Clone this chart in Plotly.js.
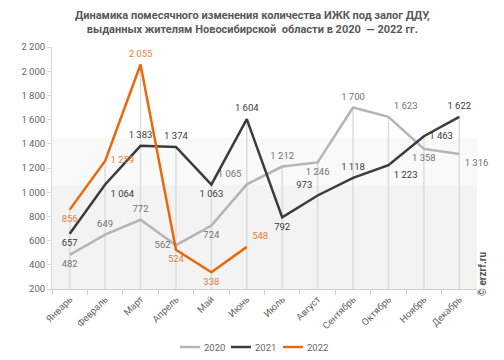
<!DOCTYPE html>
<html>
<head>
<meta charset="utf-8">
<script src="https://cdn.plot.ly/plotly-3.0.1.min.js"></script>
<style>html,body{margin:0;padding:0;background:#fff;}#chart{width:504px;height:360px;}</style>
</head>
<body>
<div id="chart"></div>
<script>
const months = ['Январь','Февраль','Март','Апрель','Май','Июнь','Июль','Август','Сентябрь','Октябрь','Ноябрь','Декабрь'];
const values2020 = [482, 649, 772, 562, 724, 1065, 1212, 1246, 1700, 1623, 1358, 1316];
const values2021 = [657, 1064, 1383, 1374, 1063, 1604, 792, 973, 1118, 1223, 1463, 1622];
const values2022 = [856, 1259, 2055, 524, 338, 548];
const seriesNames = ['2020', '2021', '2022'];
const yTicks = [200, 400, 600, 800, 1000, 1200, 1400, 1600, 1800, 2000, 2200];

const pos2020 = ['bottom center','top center','top center','middle left','bottom center','top left','top center','bottom center','top center','top right','bottom center','bottom right'];
const pos2021 = ['bottom center','bottom right','top center','top center','bottom center','top center','bottom center','top left','top center','bottom right','middle right','top center'];
const pos2022 = ['bottom center','middle right','top center','bottom center','bottom center','top right'];

const FONT = 'Roboto, "Liberation Sans", sans-serif';
const colors = ['#b5b5b5', '#3b3b3b', '#e8690c'];
const labelColors = ['#737373', '#3b3b3b', '#e2813a'];

function series(idx, y, pos) {
  return {
    type: 'scatter', mode: 'lines+markers+text', name: seriesNames[idx],
    x: months.slice(0, y.length), y: y,
    line: {color: colors[idx], width: 2.5},
    marker: {size: 7, color: 'rgba(0,0,0,0)', line: {width: 0}},
    texttemplate: '%{y:,}', textposition: pos,
    textfont: {family: FONT, size: 9.5, color: labelColors[idx]},
    cliponaxis: false,
    hoverinfo: 'skip'
  };
}

const traces = [
  series(0, values2020, pos2020),
  series(1, values2021, pos2021),
  series(2, values2022, pos2022)
];

const shapes = [
  {type:'rect', xref:'paper', yref:'y', x0:0, x1:1, y0:1060, y1:1450, fillcolor:'#f9f9f9', line:{width:0}, layer:'below'},
  {type:'rect', xref:'paper', yref:'y', x0:0, x1:1, y0:200, y1:1060, fillcolor:'#f3f3f3', line:{width:0}, layer:'below'}
];
months.forEach((m, i) => {
  const vals = [values2020[i], values2021[i], values2022[i]].filter(v => v !== undefined);
  const top = Math.max(...vals);
  shapes.push({type:'line', xref:'x', yref:'y', x0:m, x1:m, y0:200, y1:top,
    line:{color:'#dcdcdc', width:1.5}, layer:'below'});
});

// manual legend (compact, like the reference)
const legendY = -0.2397;
const legendX = [0.301, 0.4212, 0.5435];
const annotations = [{
  text: '<b>© erzrf.ru</b>', xref: 'paper', yref: 'paper',
  x: 1.014, y: 0.062, xanchor: 'center', yanchor: 'middle',
  textangle: -90, showarrow: false,
  font: {family: FONT, size: 10, color: '#555555'}
}, {
  text: '<b>Динамика помесячного изменения количества ИЖК под залог ДДУ,<br>выданных жителям Новосибирской  области в 2020  — 2022 гг.</b>',
  xref: 'paper', yref: 'paper', x: 0.4706, y: 1.165, xanchor: 'center', yanchor: 'top',
  showarrow: false, align: 'center',
  font: {family: FONT, size: 11, color: '#595959'}
}];
seriesNames.forEach((n, i) => {
  shapes.push({type:'line', xref:'paper', yref:'paper', x0: legendX[i], x1: legendX[i] + 0.047,
    y0: legendY, y1: legendY, line: {color: colors[i], width: 2.5}});
  annotations.push({text: n, xref:'paper', yref:'paper', x: legendX[i] + 0.052, y: legendY,
    xanchor:'left', yanchor:'middle', showarrow:false,
    font: {family: FONT, size: 9.5, color: '#666666'}});
});

const layout = {
  width: 504, height: 360,
  margin: {l: 52, r: 27, t: 47, b: 71},
  paper_bgcolor: '#ffffff', plot_bgcolor: '#ffffff',
  separators: ', ',
  font: {family: FONT, color: '#666666', size: 10},
  xaxis: {
    type: 'category', categoryarray: months, range: [-0.5, 11.5],
    showgrid: false, zeroline: false,
    showline: true, linecolor: '#d0d0d0', linewidth: 1,
    ticks: 'outside', tickson: 'boundaries', ticklen: 5, tickcolor: '#d0d0d0',
    tickangle: -45, tickfont: {family: FONT, size: 9.5, color: '#666666'}
  },
  yaxis: {
    range: [200, 2200], tickvals: yTicks, tickformat: ',',
    showgrid: false, zeroline: false,
    showline: true, linecolor: '#d8d8d8', linewidth: 1,
    ticks: 'outside', ticklen: 4, tickcolor: '#d8d8d8',
    tickfont: {family: FONT, size: 9.5, color: '#666666'}
  },
  showlegend: false,
  shapes: shapes,
  annotations: annotations
};

Plotly.newPlot('chart', traces, layout, {displayModeBar: false, staticPlot: true});
</script>
</body>
</html>
